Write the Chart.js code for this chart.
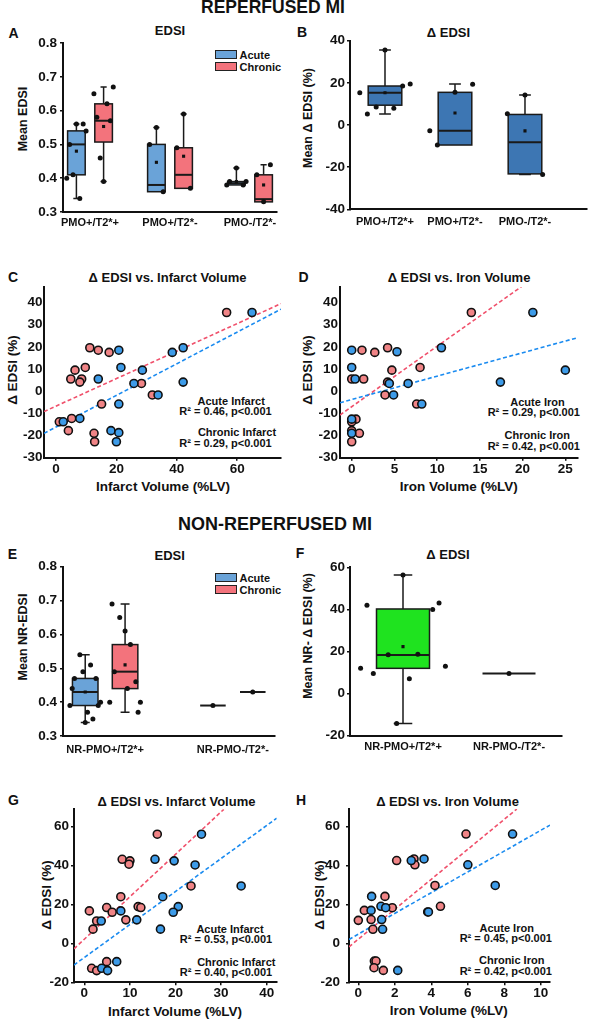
<!DOCTYPE html>
<html>
<head>
<meta charset="utf-8">
<script src="https://cdn.jsdelivr.net/npm/chart.js@4.4.1/dist/chart.umd.min.js"></script>
<style>
  body { margin:0; width:595px; height:1020px; background:#fff; position:relative; overflow:hidden;
         font-family:"Liberation Sans", Arial, sans-serif; font-weight:bold; color:#111; }
  .t { position:absolute; white-space:nowrap; transform:translate(-50%,-50%); line-height:1; }
  .v { position:absolute; white-space:nowrap; transform:translate(-50%,-50%) rotate(-90deg); line-height:1; }
  .key { position:absolute; box-sizing:border-box; width:22px; height:9.5px; border:1.5px solid #222; }
  canvas { position:absolute; }
</style>
</head>
<body>
<script>
// ---------- data ----------
const catsR = ['PMO+/T2*+', 'PMO+/T2*-', 'PMO-/T2*-'];
const catsNR = ['NR-PMO+/T2*+', 'NR-PMO-/T2*-'];

// box stats per group: [min, q1, median, q3, max, mean]
const aAcuteStats = [[0.34, 0.41, 0.50, 0.54, 0.56, 0.48], [0.36, 0.36, 0.38, 0.50, 0.55, 0.447], [0.38, 0.38, 0.385, 0.39, 0.43, 0.39]];
const aChronicStats = [[0.39, 0.507, 0.57, 0.62, 0.67, 0.553], [0.37, 0.37, 0.41, 0.49, 0.59, 0.465], [0.33, 0.33, 0.338, 0.41, 0.44, 0.38]];
const aAcutePts = [[0.56, 0.50, 0.56, 0.40, 0.54, 0.41, 0.34], [0.55, 0.50, 0.36], [0.43, 0.39, 0.38, 0.38, 0.39]];
const aChronicPts = [[0.39, 0.58, 0.57, 0.65, 0.67, 0.46, 0.62], [0.59, 0.49, 0.37], [0.33, 0.41, 0.44]];
const edsiTicks = [0.3, 0.4, 0.5, 0.6, 0.7, 0.8];

const bStats = [[5.2, 9.4, 15.3, 18.5, 35.6, 15.3], [-9.5, -9.5, -2.7, 15.5, 19.4, 5.7], [-23.5, -23.2, -8.2, 5.0, 14.2, -2.8]];
const bPts = [[35.6, 5.2, 18.5, 15.3, 19.5, 8.5, 7.9], [15.5, -9.5, 19.3, -2.7], [14.2, 5.3, -23.5]];
const bTicks = [-40, -20, 0, 20, 40];

const eAcuteStats = [[0.34, 0.39, 0.43, 0.47, 0.54, 0.43], [0.39, 0.39, 0.39, 0.39, 0.39]];
const eChronicStats = [[0.37, 0.44, 0.49, 0.57, 0.69, 0.51], [0.43, 0.43, 0.43, 0.43, 0.43]];
const eAcutePts = [[0.34, 0.47, 0.47, 0.39, 0.40, 0.54, 0.51, 0.44, 0.39, 0.37, 0.49, 0.35], [0.39]];
const eChronicPts = [[0.61, 0.49, 0.46, 0.40, 0.40, 0.65, 0.57, 0.69, 0.37, 0.44], [0.43]];

const fStats = [[-14.2, 12.0, 18.3, 40.2, 56.4, 22.3], [9.6, 9.6, 9.6, 9.6, 9.6]];
const fPts = [[56.4, 9.5, 40.0, 12.0, 13.0, 18.5, 18.7, 42.0, 43.0, 7.0, -14.2], [9.6]];
const fTicks = [-20, 0, 20, 40, 60];

// Delta EDSI vs volume (reperfused)
const dEdsiTicks = [-30, -20, -10, 0, 10, 20, 30, 40];
const cAcuteX = [64.9, 42.1, 20.8, 38.5, 21.5, 28.6, 14.0, 42.1, 25.8, 33.8, 20.8, 7.9, 2.4, 18.2, 20.8, 20.0];
const cAcuteY = [35.5, 19.6, 18.5, 17.5, 10.7, 9.5, 5.5, 4.1, 3.5, -1.7, -5.8, -12.3, -13.8, -17.8, -18.7, -22.8];
const cChronicX = [56.5, 11.2, 14.0, 17.6, 9.7, 6.3, 4.9, 8.5, 7.9, 28.3, 31.9, 15.1, 5.2, 1.1, 4.1, 12.6, 12.8];
const cChronicY = [35.5, 19.6, 18.5, 17.5, 10.7, 9.5, 5.5, 5.5, 4.1, 3.5, -1.7, -5.8, -12.3, -13.8, -17.8, -19.0, -22.8];
const cAcuteFit = [[-3.97, -19.0], [74.5, 37.0]];
const cChronicFit = [[-3.97, -9.2], [74.5, 39.5]];
const cTicks = [0, 20, 40, 60];

const dAcuteX = [0, 0, 0.4, 5.3, 4.4, 4.9, 6.6, 10.5, 21.2, 25.0, 17.4, 8.2, 0, 0];
const dAcuteY = [18.5, 10.7, 5.5, 17.8, 3.5, -1.7, 3.5, 19.6, 35.5, 9.5, 4.1, -5.8, -12.6, -19.0];
const dChronicX = [1.2, 2.7, 4.2, 4.7, 8.0, 0, 1.4, 4.2, 3.9, 7.6, 14.0, 0.5, 0, 0, 0.9, 0];
const dChronicY = [18.5, 17.5, 19.6, 9.5, 10.7, 5.5, 5.5, 4.1, -1.7, -5.8, 35.5, -12.6, -13.8, -17.8, -19.0, -22.8];
const dAcuteFit = [[-1.37, -5.2], [26.4, 24.1]];
const dChronicFit = [[-1.37, -10.75], [20.2, 48.1]];
const dTicks = [0, 5, 10, 15, 20, 25];

// Delta EDSI vs volume (non-reperfused)
const nrTicks = [-20, 0, 20, 40, 60];
const gAcuteX = [25.7, 15.5, 19.7, 24.3, 17.2, 34.4, 8.0, 20.6, 19.5, 11.5, 3.7, 16.7, 7.1, 3.8, 5.1];
const gAcuteY = [56.1, 43.2, 42.4, 40.3, 24.0, 29.5, 16.7, 18.9, 16.0, 12.1, 11.5, 7.3, -9.4, -12.8, -14.0];
const gChronicX = [16.0, 8.3, 10.0, 9.8, 8.0, 23.4, 1.1, 4.9, 6.1, 11.8, 12.4, 2.7, 9.1, 1.9, 1.6, 2.7, 4.9];
const gChronicY = [56.1, 43.2, 42.4, 40.7, 24.0, 29.5, 16.7, 18.4, 16.0, 18.9, 18.4, 11.5, 12.1, 7.3, -12.8, -14.0, -9.4];
const gAcuteFit = [[-2.27, -11.1], [42.2, 64.3]];
const gChronicFit = [[-2.27, -2.8], [30.6, 68.9]];
const gTicks = [0, 10, 20, 30, 40];

const hAcuteX = [8.45, 6.0, 2.9, 3.6, 7.5, 0.73, 0.7, 1.24, 1.5, 3.84, 1.28, 1.33, 2.16];
const hAcuteY = [56.1, 40.3, 42.5, 43.3, 29.7, 24.1, 16.9, 19.0, 18.3, 16.1, 12.2, 7.2, -13.9];
const hChronicX = [5.9, 2.1, 3.05, 3.1, 4.2, 4.5, 3.8, 1.46, 1.86, 0.33, 0, 0.7, 0.8, 0.88, 0.97, 0.86, 1.37];
const hChronicY = [56.1, 42.5, 43.3, 40.3, 29.7, 19.0, 16.1, 24.1, 18.3, 16.9, 11.8, 12.2, 7.2, -9.1, -9.1, -12.5, -13.9];
const hAcuteFit = [[-0.51, 2.0], [10.5, 60.7]];
const hChronicFit = [[-0.51, -1.8], [8.68, 68.9]];
const hTicks = [0, 2, 4, 6, 8, 10];

// ---------- styles ----------
const BLUE_BOX = '#6aa3d8', RED_BOX = '#f3737c';
const BLUE_PT = '#3d9be8', RED_PT = '#f08486';
const BLUE_FIT = '#1a8bf0', RED_FIT = '#f0506b';
const JIT = [0, -0.7, 0.7, -1, 1, -0.35, 0.35, -0.85, 0.85, 0.15, -0.15, 0.5, -0.5];
const TICK = 13.5, CAT = 11;

Chart.defaults.font.family = "'Liberation Sans', Arial, sans-serif";
Chart.defaults.font.weight = 'bold';
Chart.defaults.color = '#111';

// ---------- text ----------
const texts = [
  ['REPERFUSED MI', 273, 7.5, 17.5], ['NON-REPERFUSED MI', 275, 524, 18],
  ['A', 13.5, 32.5, 14], ['B', 302, 32, 14], ['C', 13, 277, 14], ['D', 303.5, 277, 14],
  ['E', 12.5, 553.5, 14], ['F', 300, 553, 14], ['G', 13.5, 799.5, 14], ['H', 301, 799.5, 14],
  ['EDSI', 170, 30, 13], ['Δ EDSI', 448.5, 31.7, 13],
  ['Δ EDSI vs. Infarct Volume', 167.5, 276.5, 13], ['Δ EDSI vs. Iron Volume', 459, 276.5, 13],
  ['EDSI', 169.7, 555, 13], ['Δ EDSI', 448, 554, 13],
  ['Δ EDSI vs. Infarct Volume', 176.5, 801, 13], ['Δ EDSI vs. Iron Volume', 447.5, 801, 13],
  ['Infarct Volume (%LV)', 163, 487.3, 13.5], ['Iron Volume (%LV)', 458.7, 487.3, 13.5],
  ['Infarct Volume (%LV)', 175, 1012, 13.5], ['Iron Volume (%LV)', 448.7, 1011.3, 13.5],
  ['Acute Infarct', 231.2, 400.8, 11], ['R² = 0.46, p<0.001', 225.5, 410.8, 11],
  ['Chronic Infarct', 237, 432.3, 11], ['R² = 0.29, p<0.001', 225.5, 442.7, 11],
  ['Acute Iron', 537.5, 402, 11], ['R² = 0.29, p<0.001', 533.8, 412.2, 11],
  ['Chronic Iron', 537.3, 434.5, 11], ['R² = 0.42, p<0.001', 533.8, 445.5, 11],
  ['Acute Infarct', 230, 929, 11], ['R² = 0.53, p<0.001', 226, 939.3, 11],
  ['Chronic Infarct', 236.3, 961.7, 11], ['R² = 0.40, p<0.001', 226, 972, 11],
  ['Acute Iron', 506.7, 927.7, 11], ['R² = 0.45, p<0.001', 505.8, 938.3, 11],
  ['Chronic Iron', 511.7, 960, 11], ['R² = 0.42, p<0.001', 505.8, 971, 11]
];
const vtexts = [
  ['Mean EDSI', 23.3, 119, 12.5], ['Mean Δ EDSI (%)', 308.3, 118, 12.5],
  ['Δ EDSI (%)', 13.3, 370, 13.5], ['Δ EDSI (%)', 308.3, 370, 13.5],
  ['Mean NR-EDSI', 23.3, 637, 12.5], ['Mean NR- Δ EDSI (%)', 308.3, 635.5, 12.5],
  ['Δ EDSI (%)', 46.7, 895, 13.5], ['Δ EDSI (%)', 320, 895, 13.5]
];
function addText(list, cls) {
  list.forEach(([s, x, y, size]) => {
    const d = document.createElement('div');
    d.className = cls;
    d.textContent = s;
    d.style.left = x + 'px';
    d.style.top = y + 'px';
    d.style.fontSize = size + 'px';
    document.body.appendChild(d);
  });
}
addText(texts, 't');
addText(vtexts, 'v');

// legends (panels A and E)
[[54.7, 66.7], [577.7, 589.7]].forEach(([ya, yc]) => {
  [[ya, BLUE_BOX, 'Acute'], [yc, RED_BOX, 'Chronic']].forEach(([y, col, s]) => {
    const k = document.createElement('div');
    k.className = 'key';
    k.style.left = '215px';
    k.style.top = (y - 4.75) + 'px';
    k.style.background = col;
    document.body.appendChild(k);
    const d = document.createElement('div');
    d.className = 't';
    d.style.transform = 'translate(0,-50%)';
    d.style.left = '239.5px';
    d.style.top = y + 'px';
    d.style.fontSize = '11px';
    d.textContent = s;
    document.body.appendChild(d);
  });
});

// ---------- chart helpers ----------
function makeCanvas(box) {
  const c = document.createElement('canvas');
  c.width = box.w;
  c.height = box.h;
  c.style.left = box.left + 'px';
  c.style.top = box.top + 'px';
  document.body.appendChild(c);
  return c;
}

function axis(min, max, ticks, horiz, fixed, t) {
  return {
    type: 'linear', min, max,
    afterBuildTicks: s => { s.ticks = ticks.map(v => ({ value: v })); },
    afterFit: s => { if (horiz) s.height = fixed; else s.width = fixed; },
    ticks: { autoSkip: false, maxRotation: 0, minRotation: 0, padding: t.pad, font: { size: t.size }, color: '#111', callback: t.cb },
    grid: { drawOnChartArea: false, drawTicks: t.len > 0, tickLength: t.len, color: '#111', lineWidth: 1.5 },
    border: { display: true, color: '#111', width: 2 }
  };
}

function render(box, area, xs, ys, datasets, plugins) {
  new Chart(makeCanvas(box), {
    type: 'scatter',
    data: { datasets },
    options: {
      responsive: false, animation: false, events: [],
      layout: { padding: { top: area.t - box.top, right: box.left + box.w - area.r, left: 0, bottom: 0 } },
      plugins: { legend: { display: false }, tooltip: { enabled: false } },
      scales: {
        x: axis(xs.min, xs.max, xs.ticks, true, box.top + box.h - area.b, xs),
        y: axis(ys.min, ys.max, ys.ticks, false, area.l - box.left, ys)
      }
    },
    plugins: plugins || []
  });
}

// draws boxes, whiskers and medians through the chart scales
function boxPlot(items) {
  return {
    id: 'boxplot',
    beforeDatasetsDraw(chart) {
      const { ctx, scales: { x, y } } = chart;
      ctx.save();
      ctx.strokeStyle = '#1a1a1a';
      items.forEach(b => {
        const cx = x.getPixelForValue(b.at);
        const hw = x.getPixelForValue(b.at + b.w / 2) - cx;
        const [lo, q1, med, q3, hi] = b.s.slice(0, 5).map(v => y.getPixelForValue(v));
        const cap = hw * 0.35;
        ctx.lineWidth = 1.5;
        ctx.beginPath();
        if (lo - q1 > 0.5) { ctx.moveTo(cx, q1); ctx.lineTo(cx, lo); ctx.moveTo(cx - cap, lo); ctx.lineTo(cx + cap, lo); }
        if (q3 - hi > 0.5) { ctx.moveTo(cx, q3); ctx.lineTo(cx, hi); ctx.moveTo(cx - cap, hi); ctx.lineTo(cx + cap, hi); }
        ctx.stroke();
        if (q1 - q3 > 0.5) {
          ctx.fillStyle = b.color;
          ctx.fillRect(cx - hw, q3, 2 * hw, q1 - q3);
          ctx.strokeRect(cx - hw, q3, 2 * hw, q1 - q3);
        }
        ctx.lineWidth = 2;
        ctx.beginPath();
        ctx.moveTo(cx - hw, med);
        ctx.lineTo(cx + hw, med);
        ctx.stroke();
      });
      ctx.restore();
    }
  };
}

function boxPanel(box, area, o) {
  const items = [], pts = [], means = [];
  o.series.forEach(sr => {
    sr.stats.forEach((s, i) => {
      const at = i + sr.off;
      items.push({ at, w: o.width, s, color: sr.color });
      sr.pts[i].forEach((v, k) => pts.push({ x: at + JIT[k % JIT.length] * o.width / 2 * o.spread, y: v }));
      if (s.length > 5) means.push({ x: at, y: s[5] });
    });
  });
  const datasets = [
    { data: means, pointStyle: 'rect', pointRadius: 2.2, backgroundColor: '#111', borderWidth: 0 },
    { data: pts, pointRadius: 2.5, backgroundColor: '#111', borderWidth: 0 }
  ];
  render(box, area,
    { min: o.xMin, max: o.xMax, ticks: o.cats.map((c, i) => i), len: 0, pad: o.catPad, size: CAT, cb: v => o.cats[v] },
    { min: o.yMin, max: o.yMax, ticks: o.yTicks, len: 3, pad: o.yPad, size: TICK, cb: o.yFmt },
    datasets, [boxPlot(items)]);
}

function scatterPanel(box, area, o) {
  const pts = (xs, ys) => xs.map((x, i) => ({ x, y: ys[i] }));
  const fit = (f, col) => ({
    data: f.map(([x, y]) => ({ x, y })), showLine: true, pointRadius: 0,
    borderColor: col, borderWidth: 1.6, borderDash: [4, 2.5]
  });
  const dot = { pointRadius: 4, borderColor: '#111', borderWidth: 1.6 };
  const datasets = [
    Object.assign({ data: pts(o.ax, o.ay), backgroundColor: BLUE_PT }, dot),
    Object.assign({ data: pts(o.cx, o.cy), backgroundColor: RED_PT }, dot),
    fit(o.aFit, BLUE_FIT),
    fit(o.cFit, RED_FIT)
  ];
  render(box, area,
    { min: o.xMin, max: o.xMax, ticks: o.xTicks, len: 3, pad: o.xPad, size: TICK },
    { min: o.yMin, max: o.yMax, ticks: o.yTicks, len: o.yLen, pad: o.yPad, size: TICK },
    datasets);
}

const fmt1 = v => v.toFixed(1);

// ---------- panels ----------
boxPanel({ left: 0, top: 28, w: 290, h: 210 }, { l: 63, t: 43, r: 277, b: 212 }, {
  cats: catsR, xMin: -0.3375, xMax: 2.3375, yMin: 0.3, yMax: 0.8, yTicks: edsiTicks, yFmt: fmt1,
  width: 0.22, spread: 1.1, catPad: 4, yPad: 3,
  series: [
    { stats: aAcuteStats, pts: aAcutePts, off: -0.17, color: BLUE_BOX },
    { stats: aChronicStats, pts: aChronicPts, off: 0.17, color: RED_BOX }
  ]
});

boxPanel({ left: 295, top: 26, w: 300, h: 210 }, { l: 350, t: 40.7, r: 587, b: 209.3 }, {
  cats: catsR, xMin: -0.5, xMax: 2.886, yMin: -40, yMax: 40, yTicks: bTicks,
  width: 0.48, spread: 1.5, catPad: 6, yPad: 2,
  series: [{ stats: bStats, pts: bPts, off: 0, color: '#3d76b3' }]
});

scatterPanel({ left: 0, top: 272, w: 295, h: 205 }, { l: 44, t: 287, r: 281, b: 457.7 }, {
  xMin: -3.97, xMax: 74.5, xTicks: cTicks, yMin: -30, yMax: 47, yTicks: dEdsiTicks,
  xPad: 0.5, yLen: 0, yPad: 1.5,
  ax: cAcuteX, ay: cAcuteY, cx: cChronicX, cy: cChronicY, aFit: cAcuteFit, cFit: cChronicFit
});

scatterPanel({ left: 295, top: 272, w: 300, h: 205 }, { l: 340, t: 287, r: 577.3, b: 457.7 }, {
  xMin: -1.37, xMax: 26.4, xTicks: dTicks, yMin: -30, yMax: 47, yTicks: dEdsiTicks,
  xPad: 0.5, yLen: 0, yPad: 2,
  ax: dAcuteX, ay: dAcuteY, cx: dChronicX, cy: dChronicY, aFit: dAcuteFit, cFit: dChronicFit
});

boxPanel({ left: 0, top: 552, w: 290, h: 210 }, { l: 63, t: 566.7, r: 275, b: 736 }, {
  cats: catsNR, xMin: -0.33, xMax: 1.33, yMin: 0.3, yMax: 0.8, yTicks: edsiTicks, yFmt: fmt1,
  width: 0.2, spread: 1.2, catPad: 7.5, yPad: 3,
  series: [
    { stats: eAcuteStats, pts: eAcutePts, off: -0.156, color: BLUE_BOX },
    { stats: eChronicStats, pts: eChronicPts, off: 0.156, color: RED_BOX }
  ]
});

boxPanel({ left: 295, top: 552, w: 300, h: 210 }, { l: 350, t: 567.3, r: 562, b: 735.7 }, {
  cats: catsNR, xMin: -0.5, xMax: 1.5, yMin: -20, yMax: 60, yTicks: fTicks,
  width: 0.5, spread: 1.6, catPad: 5, yPad: 2,
  series: [{ stats: fStats, pts: fPts, off: 0, color: '#1fe31f' }]
});

scatterPanel({ left: 0, top: 795, w: 295, h: 205 }, { l: 74, t: 809.3, r: 276.7, b: 982.3 }, {
  xMin: -2.27, xMax: 42.2, xTicks: gTicks, yMin: -20, yMax: 68.9, yTicks: nrTicks,
  xPad: 0, yLen: 3, yPad: 2,
  ax: gAcuteX, ay: gAcuteY, cx: gChronicX, cy: gChronicY, aFit: gAcuteFit, cFit: gChronicFit
});

scatterPanel({ left: 295, top: 795, w: 300, h: 205 }, { l: 349, t: 808.3, r: 550, b: 982.3 }, {
  xMin: -0.51, xMax: 10.5, xTicks: hTicks, yMin: -20, yMax: 68.9, yTicks: nrTicks,
  xPad: 0, yLen: 3, yPad: 6,
  ax: hAcuteX, ay: hAcuteY, cx: hChronicX, cy: hChronicY, aFit: hAcuteFit, cFit: hChronicFit
});
</script>
</body>
</html>
